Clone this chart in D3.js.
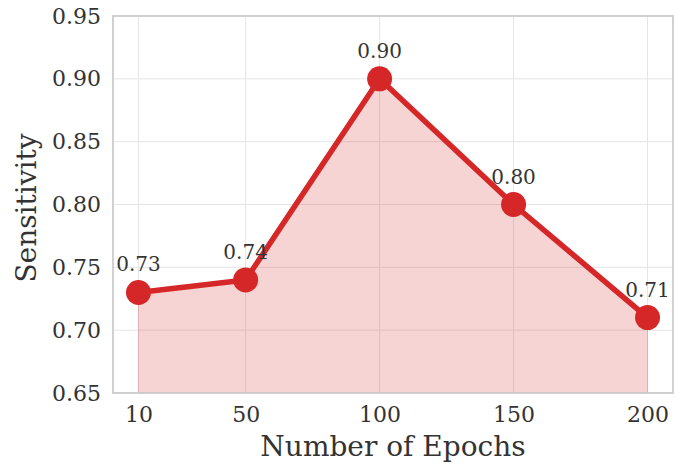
<!DOCTYPE html>
<html><head><meta charset="utf-8">
<script src="https://cdn.jsdelivr.net/npm/d3@7/dist/d3.min.js"></script>
<style>body{margin:0;background:#fff}</style>
</head><body>
<svg id="c" width="683" height="466"></svg>
<script>
const epochs = [10, 50, 100, 150, 200];
const sensitivity = [0.73, 0.74, 0.90, 0.80, 0.71];
const xTicks = [10, 50, 100, 150, 200];
const yTicks = [0.65, 0.70, 0.75, 0.80, 0.85, 0.90, 0.95];

const svg = d3.select("#c");
const L = 113, R = 673, T = 16, B = 393;
const x = d3.scaleLinear().domain([0.5, 209.5]).range([L, R]);
const y = d3.scaleLinear().domain([0.65, 0.95]).range([B, T]);
const font = "'DejaVu Serif', serif";
const data = epochs.map((e, i) => ({e, v: sensitivity[i]}));

// grid
const g = svg.append("g");
g.selectAll(".gx").data(xTicks).join("line")
  .attr("x1", d => x(d)).attr("x2", d => x(d)).attr("y1", T).attr("y2", B)
  .attr("stroke", "#e5e5e5").attr("stroke-width", 1);
g.selectAll(".gy").data(yTicks).join("line")
  .attr("x1", L).attr("x2", R).attr("y1", d => y(d)).attr("y2", d => y(d))
  .attr("stroke", "#e5e5e5").attr("stroke-width", 1);

// area
svg.append("path").datum(data)
  .attr("d", d3.area().x(d => x(d.e)).y0(y(0.65)).y1(d => y(d.v)))
  .attr("fill", "#d62728").attr("fill-opacity", 0.2)
  .attr("stroke", "#d62728").attr("stroke-opacity", 0.2).attr("stroke-width", 1);

// frame
svg.append("rect").attr("x", L).attr("y", T).attr("width", R - L).attr("height", B - T)
  .attr("fill", "none").attr("stroke", "#cccccc").attr("stroke-width", 1.8);

// line
svg.append("path").datum(data)
  .attr("d", d3.line().x(d => x(d.e)).y(d => y(d.v)))
  .attr("fill", "none").attr("stroke", "#d62728").attr("stroke-width", 5.5)
  .attr("stroke-linejoin", "round");

svg.selectAll(".pt").data(data).join("circle")
  .attr("cx", d => x(d.e)).attr("cy", d => y(d.v)).attr("r", 12.5)
  .attr("fill", "#d62728");

// value labels
svg.selectAll(".vl").data(data).join("text")
  .attr("x", d => x(d.e)).attr("y", d => y(d.v) - 21)
  .attr("text-anchor", "middle").attr("font-family", font).attr("font-size", 20)
  .attr("fill", "#333").text(d => d.v.toFixed(2));

// axes
const xAxis = svg.append("g").attr("transform", `translate(0,${B})`)
  .call(d3.axisBottom(x).tickValues(xTicks).tickSize(0).tickPadding(13));
const yAxis = svg.append("g").attr("transform", `translate(${L},0)`)
  .call(d3.axisLeft(y).tickValues(yTicks).tickFormat(d3.format(".2f")).tickSize(0).tickPadding(12));
[xAxis, yAxis].forEach(a => {
  a.select(".domain").remove();
  a.selectAll("text").attr("font-family", font).attr("font-size", 22).attr("fill", "#333");
});

svg.append("text").attr("x", (L + R) / 2).attr("y", 456)
  .attr("text-anchor", "middle").attr("font-family", font).attr("font-size", 28)
  .attr("fill", "#333").text("Number of Epochs");
svg.append("text").attr("transform", `translate(36,208) rotate(-90)`)
  .attr("text-anchor", "middle").attr("font-family", font).attr("font-size", 28)
  .attr("fill", "#333").text("Sensitivity");
</script>
</body></html>
